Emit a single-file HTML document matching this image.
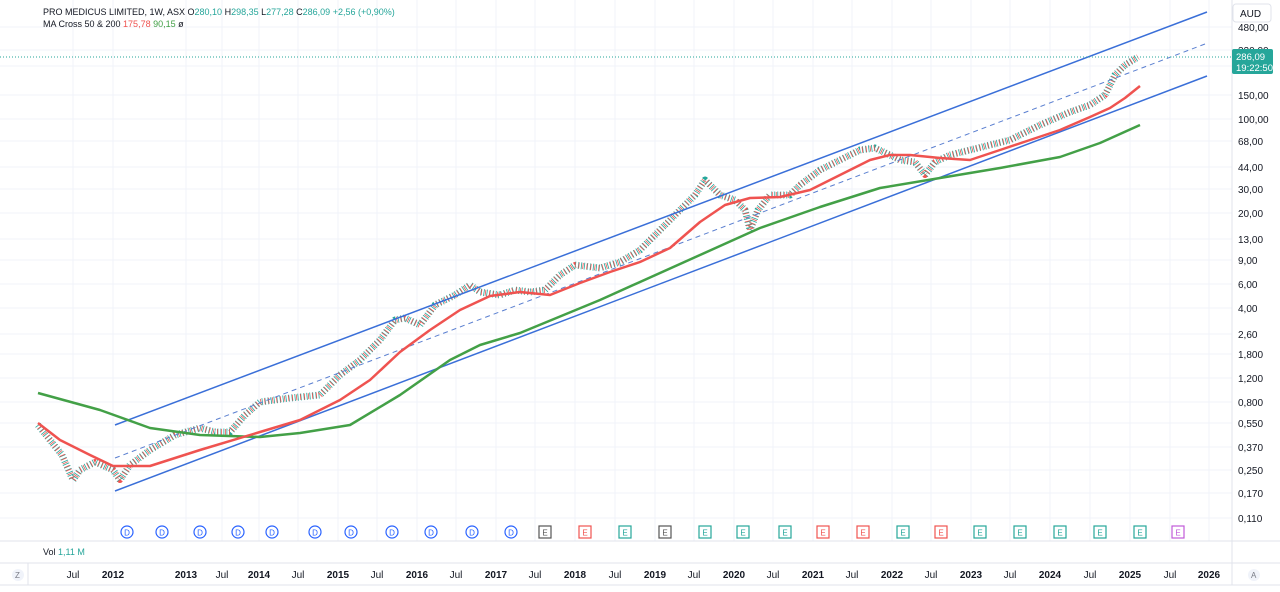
<!DOCTYPE html>
<html><head><meta charset="utf-8"><style>
html,body{margin:0;padding:0;background:#fff;width:1280px;height:592px;overflow:hidden;font-family:"Liberation Sans",sans-serif}
svg text{font-family:"Liberation Sans",sans-serif}
</style></head><body>
<svg width="1280" height="592" xmlns="http://www.w3.org/2000/svg">
<rect width="1280" height="592" fill="#fff"/>
<g stroke="#f0f3fa" stroke-width="1">
<path d="M0 27H1232M0 50H1232M0 66H1232M0 95H1232M0 119H1232M0 141H1232M0 167H1232M0 189H1232M0 213H1232M0 239H1232M0 260H1232M0 284H1232M0 308H1232M0 334H1232M0 354H1232M0 378H1232M0 402H1232M0 423H1232M0 447H1232M0 470H1232M0 493H1232M0 518H1232"/>
<path d="M73 0V541M113 0V541M186 0V541M222 0V541M259 0V541M298 0V541M338 0V541M377 0V541M417 0V541M456 0V541M496 0V541M535 0V541M575 0V541M615 0V541M655 0V541M694 0V541M734 0V541M773 0V541M813 0V541M852 0V541M892 0V541M931 0V541M971 0V541M1010 0V541M1050 0V541M1090 0V541M1130 0V541M1170 0V541M1209 0V541"/>
</g>
<g fill="none" stroke-linejoin="round">
<polyline stroke="#26a69a" stroke-width="7" stroke-dasharray="0.8,2.2" points="38,425 50,440 62,455 73,480 80,470 95,462 113,470 120,480 130,465 150,450 175,435 200,428 215,432 230,432 245,415 260,402 290,398 320,395 340,375 360,360 380,340 395,320 405,318 420,325 435,305 455,295 470,285 480,292 500,295 515,290 530,292 545,290 560,275 575,265 600,268 620,262 640,250 660,230 680,210 695,195 705,180 720,195 735,200 745,210 750,230 758,210 770,195 790,195 800,185 820,170 840,160 860,150 875,148 890,155 900,160 915,162 925,175 935,162 950,155 970,150 990,145 1010,140 1040,125 1070,112 1090,105 1105,95 1115,75 1125,65 1138,57"/>
<polyline stroke="#ef5350" stroke-width="6" stroke-dasharray="0.8,3.2" stroke-dashoffset="1.5" points="38,425 50,440 62,455 73,480 80,470 95,462 113,470 120,480 130,465 150,450 175,435 200,428 215,432 230,432 245,415 260,402 290,398 320,395 340,375 360,360 380,340 395,320 405,318 420,325 435,305 455,295 470,285 480,292 500,295 515,290 530,292 545,290 560,275 575,265 600,268 620,262 640,250 660,230 680,210 695,195 705,180 720,195 735,200 745,210 750,230 758,210 770,195 790,195 800,185 820,170 840,160 860,150 875,148 890,155 900,160 915,162 925,175 935,162 950,155 970,150 990,145 1010,140 1040,125 1070,112 1090,105 1105,95 1115,75 1125,65 1138,57"/>
</g>
<line x1="115" y1="425" x2="1207" y2="12" stroke="#3a6fd8" stroke-width="1.5"/>
<line x1="115" y1="491" x2="1207" y2="76" stroke="#3a6fd8" stroke-width="1.5"/>
<line x1="115" y1="458" x2="1205" y2="44" stroke="#5a7fd0" stroke-width="1" stroke-dasharray="5,4"/>
<polyline fill="none" stroke="#43a047" stroke-width="2.5" stroke-linejoin="round" points="38,393 100,410 150,428 200,435 260,437 300,433 350,425 400,395 450,360 480,345 520,333 600,300 700,255 760,228 820,207 880,188 940,178 1000,168 1060,157 1100,143 1140,125"/>
<polyline fill="none" stroke="#ef5350" stroke-width="2.5" stroke-linejoin="round" points="38,423 60,440 90,455 113,466 150,466 200,450 260,432 300,420 340,400 370,380 400,352 430,330 460,310 490,296 520,292 550,295 580,283 610,272 640,262 670,248 700,222 725,205 750,198 780,197 810,190 840,175 870,160 890,155 910,155 940,158 970,160 1000,150 1030,140 1060,130 1090,117 1110,108 1125,98 1140,86"/>
<line x1="0" y1="57" x2="1232" y2="57" stroke="#26a69a" stroke-width="1" stroke-dasharray="1,2"/>
<g fill="#fff" stroke="#2962ff" stroke-width="1.2">
<circle cx="127" cy="532" r="6"/><circle cx="162" cy="532" r="6"/><circle cx="200" cy="532" r="6"/><circle cx="238" cy="532" r="6"/><circle cx="272" cy="532" r="6"/><circle cx="315" cy="532" r="6"/><circle cx="351" cy="532" r="6"/><circle cx="392" cy="532" r="6"/><circle cx="431" cy="532" r="6"/><circle cx="472" cy="532" r="6"/><circle cx="511" cy="532" r="6"/>
</g>
<g font-size="8" fill="#2962ff" text-anchor="middle">
<text x="127" y="535.5">D</text><text x="162" y="535.5">D</text><text x="200" y="535.5">D</text><text x="238" y="535.5">D</text><text x="272" y="535.5">D</text><text x="315" y="535.5">D</text><text x="351" y="535.5">D</text><text x="392" y="535.5">D</text><text x="431" y="535.5">D</text><text x="472" y="535.5">D</text><text x="511" y="535.5">D</text>
</g>
<g fill="#fff" stroke-width="1.2">
<rect x="539" y="526" width="12" height="12" stroke="#555"/>
<rect x="579" y="526" width="12" height="12" stroke="#ef5350"/>
<rect x="619" y="526" width="12" height="12" stroke="#26a69a"/>
<rect x="659" y="526" width="12" height="12" stroke="#555"/>
<rect x="699" y="526" width="12" height="12" stroke="#26a69a"/>
<rect x="737" y="526" width="12" height="12" stroke="#26a69a"/>
<rect x="779" y="526" width="12" height="12" stroke="#26a69a"/>
<rect x="817" y="526" width="12" height="12" stroke="#ef5350"/>
<rect x="857" y="526" width="12" height="12" stroke="#ef5350"/>
<rect x="897" y="526" width="12" height="12" stroke="#26a69a"/>
<rect x="935" y="526" width="12" height="12" stroke="#ef5350"/>
<rect x="974" y="526" width="12" height="12" stroke="#26a69a"/>
<rect x="1014" y="526" width="12" height="12" stroke="#26a69a"/>
<rect x="1054" y="526" width="12" height="12" stroke="#26a69a"/>
<rect x="1094" y="526" width="12" height="12" stroke="#26a69a"/>
<rect x="1134" y="526" width="12" height="12" stroke="#26a69a"/>
<rect x="1172" y="526" width="12" height="12" stroke="#c05ad8"/>
</g>
<g font-size="8" text-anchor="middle">
<text x="545" y="535.5" fill="#555">E</text><text x="585" y="535.5" fill="#ef5350">E</text><text x="625" y="535.5" fill="#26a69a">E</text><text x="665" y="535.5" fill="#555">E</text><text x="705" y="535.5" fill="#26a69a">E</text><text x="743" y="535.5" fill="#26a69a">E</text><text x="785" y="535.5" fill="#26a69a">E</text><text x="823" y="535.5" fill="#ef5350">E</text><text x="863" y="535.5" fill="#ef5350">E</text><text x="903" y="535.5" fill="#26a69a">E</text><text x="941" y="535.5" fill="#ef5350">E</text><text x="980" y="535.5" fill="#26a69a">E</text><text x="1020" y="535.5" fill="#26a69a">E</text><text x="1060" y="535.5" fill="#26a69a">E</text><text x="1100" y="535.5" fill="#26a69a">E</text><text x="1140" y="535.5" fill="#26a69a">E</text><text x="1178" y="535.5" fill="#c05ad8">E</text>
</g>
<line x1="0" y1="541" x2="1280" y2="541" stroke="#e0e3eb"/>
<line x1="0" y1="563" x2="1280" y2="563" stroke="#e0e3eb"/>
<line x1="0" y1="585" x2="1280" y2="585" stroke="#e0e3eb"/>
<line x1="1232" y1="0" x2="1232" y2="585" stroke="#e0e3eb"/>
<line x1="28" y1="563" x2="28" y2="585" stroke="#e0e3eb"/>
<g font-size="10" fill="#131722">
<text x="1238" y="31">480,00</text><text x="1238" y="54">320,00</text><text x="1238" y="99">150,00</text><text x="1238" y="123">100,00</text><text x="1238" y="145">68,00</text><text x="1238" y="171">44,00</text><text x="1238" y="193">30,00</text><text x="1238" y="217">20,00</text><text x="1238" y="243">13,00</text><text x="1238" y="264">9,00</text><text x="1238" y="288">6,00</text><text x="1238" y="312">4,00</text><text x="1238" y="338">2,60</text><text x="1238" y="358">1,800</text><text x="1238" y="382">1,200</text><text x="1238" y="406">0,800</text><text x="1238" y="427">0,550</text><text x="1238" y="451">0,370</text><text x="1238" y="474">0,250</text><text x="1238" y="497">0,170</text><text x="1238" y="522">0,110</text>
</g>
<g font-size="10" fill="#131722" text-anchor="middle">
<text x="73" y="578">Jul</text><text x="113" y="578" font-weight="bold">2012</text><text x="186" y="578" font-weight="bold">2013</text><text x="222" y="578">Jul</text><text x="259" y="578" font-weight="bold">2014</text><text x="298" y="578">Jul</text><text x="338" y="578" font-weight="bold">2015</text><text x="377" y="578">Jul</text><text x="417" y="578" font-weight="bold">2016</text><text x="456" y="578">Jul</text><text x="496" y="578" font-weight="bold">2017</text><text x="535" y="578">Jul</text><text x="575" y="578" font-weight="bold">2018</text><text x="615" y="578">Jul</text><text x="655" y="578" font-weight="bold">2019</text><text x="694" y="578">Jul</text><text x="734" y="578" font-weight="bold">2020</text><text x="773" y="578">Jul</text><text x="813" y="578" font-weight="bold">2021</text><text x="852" y="578">Jul</text><text x="892" y="578" font-weight="bold">2022</text><text x="931" y="578">Jul</text><text x="971" y="578" font-weight="bold">2023</text><text x="1010" y="578">Jul</text><text x="1050" y="578" font-weight="bold">2024</text><text x="1090" y="578">Jul</text><text x="1130" y="578" font-weight="bold">2025</text><text x="1170" y="578">Jul</text><text x="1209" y="578" font-weight="bold">2026</text>
</g>
<rect x="1233" y="4" width="38" height="18" rx="3" fill="#fff" stroke="#e0e3eb"/>
<text x="1240" y="17" font-size="10" fill="#131722">AUD</text>
<rect x="1232" y="49" width="41" height="25" rx="2" fill="#26a69a"/>
<text x="1236" y="60" font-size="9.5" fill="#fff">286,09</text>
<text x="1236" y="71" font-size="9.5" fill="#fff">19:22:50</text>
<text x="43" y="15" font-size="9" fill="#131722">PRO MEDICUS LIMITED, 1W, ASX  O<tspan fill="#26a69a">280,10</tspan> H<tspan fill="#26a69a">298,35</tspan> L<tspan fill="#26a69a">277,28</tspan> C<tspan fill="#26a69a">286,09</tspan> <tspan fill="#26a69a">+2,56 (+0,90%)</tspan></text>
<text x="43" y="27" font-size="9" fill="#131722">MA Cross 50 &amp; 200  <tspan fill="#ef5350">175,78</tspan>  <tspan fill="#43a047">90,15</tspan>  ø</text>
<text x="43" y="555" font-size="9" fill="#131722">Vol  <tspan fill="#26a69a">1,11 M</tspan></text>
<circle cx="18" cy="575" r="6" fill="#f0f3fa"/><text x="15" y="578" font-size="8" fill="#787b86">Z</text>
<circle cx="1254" cy="575" r="6" fill="#f0f3fa"/><text x="1251" y="578" font-size="8" fill="#787b86">A</text>
</svg>
</body></html>
